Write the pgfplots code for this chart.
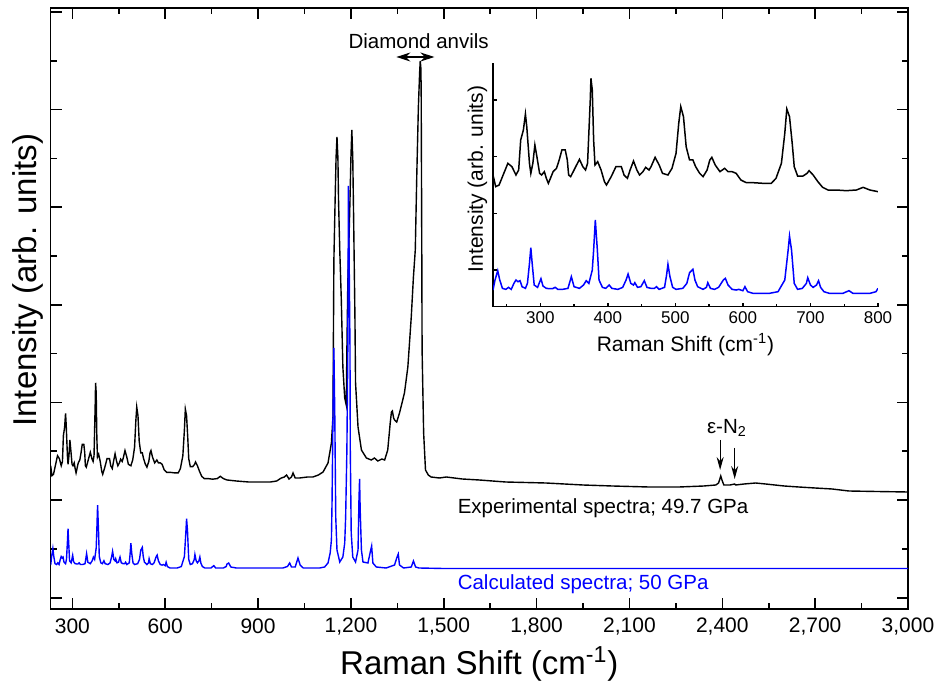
\documentclass[border=0pt]{standalone}
\usepackage{fontspec}
\setmainfont{Liberation Sans}
\usepackage{pgfplots}
\usepackage{pgfplotstable}
\pgfplotsset{compat=1.18}
\usetikzlibrary{arrows.meta}

% Low-frequency region (230-800 cm^-1), intensities on the inset scale
\pgfplotstableread{
x Y
230 395
234 360
239 365
244 390
252 430
258 420
264 395
268 410
271 500
275 530
278 578
280 540
284 430
286 400
289 430
292 485
295 450
299 400
302 395
306 405
309 385
312 370
316 390
319 405
324 415
328 440
332 470
337 470
340 440
342 395
345 390
350 410
358 442
363 420
367 410
370 430
374 620
375 685
377 650
379 500
381 425
385 435
390 410
395 375
398 365
405 390
412 420
420 420
424 395
429 385
433 410
438 437
443 410
447 395
452 405
456 418
461 410
464 420
470 448
476 425
481 400
489 395
495 415
501 460
505 550
508 600
512 570
516 480
521 440
526 440
530 420
536 400
541 390
547 410
551 440
554 448
559 425
566 405
573 415
578 405
584 405
590 400
597 380
605 372
615 372
630 370
642 370
649 385
657 430
662 520
665 593
669 570
673 490
676 420
681 392
689 392
695 400
698 408
704 395
711 375
718 358
726 350
738 350
753 348
768 350
778 358
788 350
800 345
}\lowexp

\pgfplotstableread{
x Y
230 50
233 80
237 108
240 80
244 55
249 52
253 58
257 52
261 70
264 80
267 75
270 78
273 60
278 55
281 70
284 130
286 177
288 130
291 65
296 58
301 84
304 62
309 55
314 54
318 54
322 58
326 52
333 52
341 55
346 90
350 60
358 55
364 65
368 78
372 70
377 110
379 170
381.5 260
384.5 170
387 80
392 58
397 55
402 65
406 55
415 52
422 58
427 80
430 98
434 70
438 65
440 72
444 58
449 60
454 78
458 58
464 55
469 55
472 60
476 52
484 58
487 95
489 127
492 90
496 58
501 52
511 55
517 70
521 102
526 112
529 80
533 60
541 52
546 58
548 72
552 55
558 52
564 58
571 80
574 85
578 65
584 52
590 50
594 52
600 48
603 60
607 45
615 40
639 40
652 45
662 80
667 170
669 212
672 170
676 70
681 52
688 55
694 70
696 87
700 65
704 58
709 65
712 78
715 58
720 45
728 40
748 40
757 48
763 40
788 40
797 45
800 55
}\lowcalc

% High-frequency region (800-3000 cm^-1), intensities on the main scale
\pgfplotstableread{
x y
800 128
830 127
870 126
900 126
940 126
960 127
975 130
985 131
992 133
1000 129
1008 131
1013 135
1020 130
1034 130
1060 131
1077 131
1095 133
1110 136
1126 145
1137 165
1142 191
1143 245
1144 298
1145 348
1149 408
1152 450
1155 471
1158 450
1160 408
1164 358
1169 308
1174 241
1180 210
1185 203
1187 258
1190 325
1193 358
1197 408
1200 450
1203 478
1206 450
1209 385
1213 291
1215 225
1223 181
1234 158
1250 150
1266 148
1276 150
1287 147
1300 149
1309 148
1319 158
1327 185
1331 196
1334 197
1338 190
1341 188
1348 186
1357 195
1373 215
1384 241
1395 291
1402 331
1408 358
1413 435
1418 501
1422 535
1424 547
1426 540
1427 520
1429 358
1430 258
1435 175
1441 138
1450 133
1459 131
1486 130
1508 131
1560 129
1615 128
1700 126
1830 125
1950 123
2045 122
2163 121
2260 121
2340 122
2379 123
2388 125
2395 132
2400 127
2405 123
2425 123
2440 124
2443 123
2470 124
2508 125
2540 124
2600 122
2647 121
2700 120
2755 119
2809 117
2900 116.5
3000 116
}\highexp

\pgfplotstableread{
x y
800 44
805 45
812 41
830 40
980 40
995 41.5
1002 45
1008 41
1020 41
1029 50
1036 43
1046 40
1099 40
1115 41
1126 45
1133 55
1137 68
1139 105
1142 191
1145 260
1148 191
1151 91
1155 58
1164 46
1174 51
1180 65
1183 91
1187 158
1190 258
1192 422
1194 360
1197 260
1198 158
1201 75
1206 51
1215 46
1223 58
1226 108
1228 129
1230 98
1234 58
1239 46
1255 45
1264 58
1267 62
1271 45
1282 41
1314 40
1341 43
1348 50
1353 54
1357 43
1370 40
1395 41
1402 47
1409 41
1420 40
1500 39.5
3000 39.5
}\highcalc

\begin{document}
\begin{tikzpicture}
\path[use as bounding box] (-25.35pt,-38.5pt) rectangle (446.15pt,304.5pt);

\begin{axis}[
  at={(0,0)}, anchor=south west,
  scale only axis, width=428.65pt, height=300.5pt,
  xmin=230, xmax=3000, ymin=-1, ymax=600,
  xtick={300,600,...,3000},
  minor xtick={450,750,...,2850},
  ytick={10.3,107.9,205.5,303.1,400.7,498.3,595.9},
  minor ytick={59.1,156.7,254.3,351.9,449.5,547.1},
  yticklabels={},
  tick align=inside, tick pos=both, xticklabel pos=lower,
  major tick length=5.5pt, minor tick length=3pt,
  tick style={black, line width=0.8pt},
  axis line style={line width=0.8pt},
  /pgf/number format/assume math mode=true,
  /pgf/number format/1000 sep={,},
  xticklabel style={font=\fontsize{10.5pt}{12pt}\selectfont, anchor=center, yshift=-8.75pt},
  xlabel={Raman Shift (cm\textsuperscript{-1})},
  ylabel={Intensity (arb. units)},
  xlabel style={font=\fontsize{16.5pt}{19pt}\selectfont, at={(axis description cs:0.5,0)}, anchor=center, yshift=-27.5pt},
  ylabel style={font=\fontsize{16.5pt}{19pt}\selectfont, at={(axis description cs:-0.0265,0.547)}, anchor=center},
]
\addplot[black, line width=0.7pt] table[x=x, y expr={29.3+0.286*\thisrow{Y}}] {\lowexp};
\addplot[black, line width=0.7pt] table[x=x, y=y] {\highexp};
\addplot[blue, line width=0.7pt] table[x=x, y expr={28.6+0.286*\thisrow{Y}}] {\lowcalc};
\addplot[blue, line width=0.7pt] table[x=x, y=y] {\highcalc};

\node[font=\fontsize{10.25pt}{12pt}\selectfont, anchor=base, inner sep=0pt] at (axis cs:1419,559.7) {Diamond anvils};
\draw[line width=0.7pt, {Stealth[length=7pt,width=4.5pt]}-{Stealth[length=7pt,width=4.5pt]}] (axis cs:1347,551) -- (axis cs:1470,551);

\node[font=\fontsize{10.25pt}{12pt}\selectfont, anchor=center, inner sep=0pt] at (axis cs:2415,180) {ε-N\textsubscript{2}};
\draw[line width=0.6pt, -{Stealth[length=6.5pt,width=3.5pt]}] (axis cs:2393,168) -- (axis cs:2393,138);
\draw[line width=0.6pt, -{Stealth[length=6.5pt,width=3.5pt]}] (axis cs:2440,160) -- (axis cs:2440,129);

\node[font=\fontsize{10.25pt}{12pt}\selectfont, anchor=base west, inner sep=0pt] at (axis cs:1544,94.7) {Experimental spectra; 49.7 GPa};
\node[font=\fontsize{10.25pt}{12pt}\selectfont, anchor=base west, inner sep=0pt, text=blue] at (axis cs:1544,18.7) {Calculated spectra; 50 GPa};
\end{axis}

% Inset: low-frequency region
\begin{axis}[
  at={(221.15pt,151.15pt)}, anchor=south west,
  scale only axis, width=192.5pt, height=121.7pt,
  xmin=230, xmax=800, ymin=0, ymax=730,
  axis x line*=bottom, axis y line*=left,
  axis line style={-, line width=0.8pt},
  tick align=inside,
  xtick={300,400,...,800},
  minor xtick={250,350,...,750},
  ytick={110,280,450,620},
  yticklabels={},
  major tick length=2pt, minor tick length=1.3pt,
  tick style={black, line width=0.7pt},
  /pgf/number format/assume math mode=true,
  xticklabel style={font=\fontsize{8.5pt}{10pt}\selectfont, anchor=center, yshift=-5.65pt},
  xlabel={Raman Shift (cm\textsuperscript{-1})},
  ylabel={Intensity (arb. units)},
  xlabel style={font=\fontsize{10.5pt}{12pt}\selectfont, at={(axis description cs:0.5,0)}, anchor=center, yshift=-19pt},
  ylabel style={font=\fontsize{10.5pt}{12pt}\selectfont, at={(axis description cs:-0.0403,0.525)}, anchor=center},
]
\addplot[black, line width=0.75pt] table[x=x, y=Y] {\lowexp};
\addplot[blue, line width=0.75pt] table[x=x, y=Y] {\lowcalc};
\end{axis}
\end{tikzpicture}
\end{document}
